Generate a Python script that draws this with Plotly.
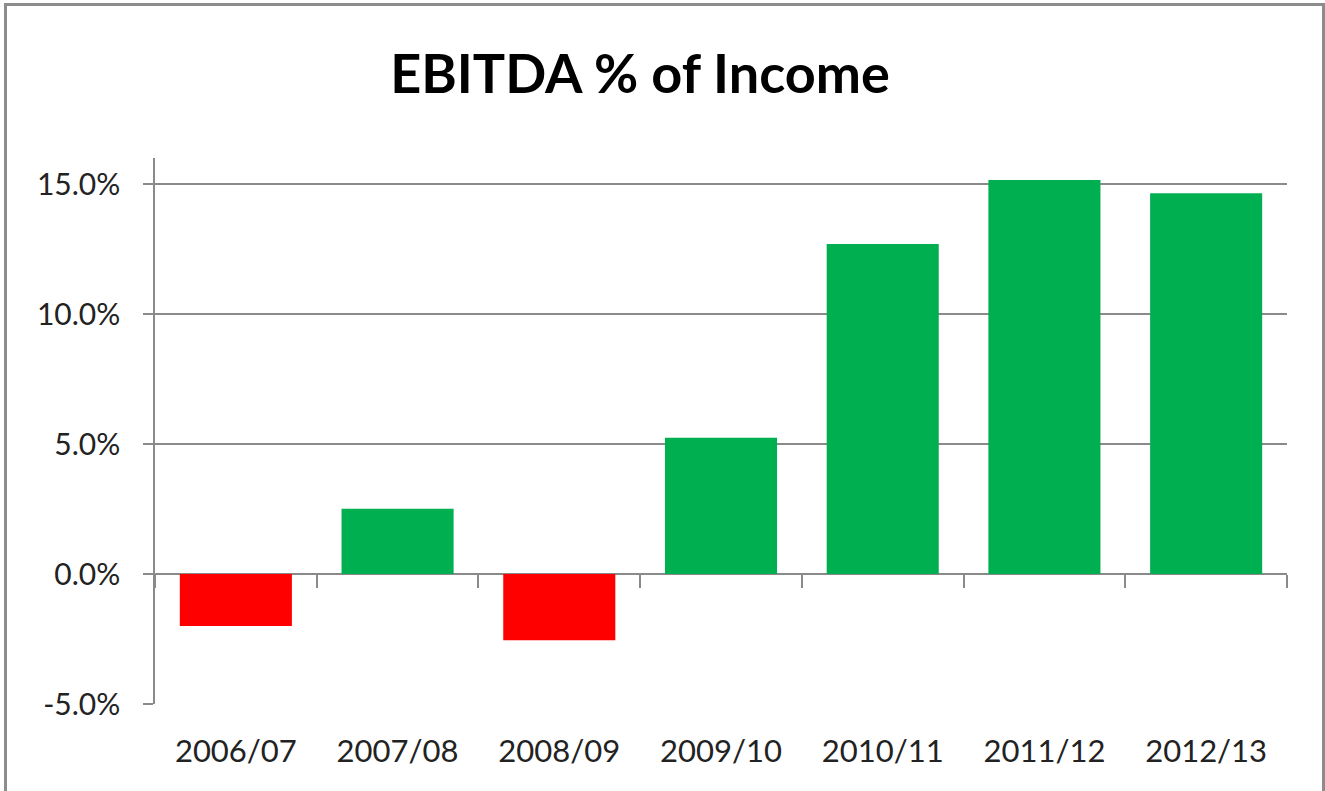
import plotly.graph_objects as go

categories = ["2006/07", "2007/08", "2008/09", "2009/10", "2010/11", "2011/12", "2012/13"]
ebitda_pct = [-0.020, 0.0251, -0.0255, 0.0524, 0.1269, 0.1515, 0.1464]
tick_vals = [-0.05, 0.0, 0.05, 0.10, 0.15]
tick_text = ["-5.0%", "0.0%", "5.0%", "10.0%", "15.0%"]

GREEN = "#00B050"
RED = "#FF0000"
GRID = "#8a8a8a"
FONT = "Lato"

colors = [GREEN if v >= 0 else RED for v in ebitda_pct]

y_min, y_max = -0.05, 0.16

fig = go.Figure()
fig.add_trace(go.Bar(x=categories, y=ebitda_pct, marker=dict(color=colors, line=dict(width=0)),
                     xaxis="x", yaxis="y", showlegend=False))
# invisible trace to carry the zero-line category ticks axis
fig.add_trace(go.Scatter(x=categories, y=ebitda_pct, mode="markers", marker=dict(opacity=0),
                         xaxis="x2", yaxis="y", showlegend=False, hoverinfo="skip"))

W, H = 1325, 791
ml, mr, mt, mb = 155, 38, 158, 87
pw = W - ml - mr
ph = H - mt - mb

def px_x(p):
    return (p - ml) / pw

def px_y(p):
    return (H - mb - p) / ph

fig.update_layout(
    width=W, height=H,
    margin=dict(l=ml, r=mr, t=mt, b=mb),
    paper_bgcolor="white", plot_bgcolor="white",
    bargap=0.307,
    title=dict(text="<b>EBITDA % of Income</b>", x=640 / W, xanchor="center",
               y=1 - 74 / H, yanchor="middle", xref="container", yref="container",
               font=dict(family=FONT, size=54, color="black")),
    xaxis=dict(type="category", showgrid=False, showline=False, ticks="", zeroline=False,
               tickfont=dict(family=FONT, size=31, color="#222222"), ticklabelstandoff=26),
    xaxis2=dict(type="category", matches="x", overlaying="x", anchor="free",
                position=(0 - y_min) / (y_max - y_min), showgrid=False, showline=False,
                showticklabels=False, ticks="outside", tickson="boundaries", ticklen=13,
                tickcolor=GRID, tickwidth=1.5, zeroline=False),
    yaxis=dict(range=[y_min, y_max], tickvals=tick_vals, ticktext=tick_text,
               showgrid=True, gridcolor=GRID, gridwidth=1.5, zeroline=False,
               showline=True, linecolor=GRID, linewidth=1.5,
               ticks="outside", ticklen=10, tickcolor=GRID, tickwidth=1.5,
               tickfont=dict(family=FONT, size=30, color="#222222"), ticklabelstandoff=17),
    shapes=[dict(type="rect", xref="paper", yref="paper",
                 x0=px_x(5.5), x1=px_x(1323.5), y0=px_y(805), y1=px_y(4.5),
                 line=dict(color="#8c8c8c", width=3), fillcolor="rgba(0,0,0,0)", layer="below")],
)

fig.write_html("out.html", config={"displayModeBar": False},
               post_script="document.body.style.margin='0';document.body.style.overflow='hidden';")
